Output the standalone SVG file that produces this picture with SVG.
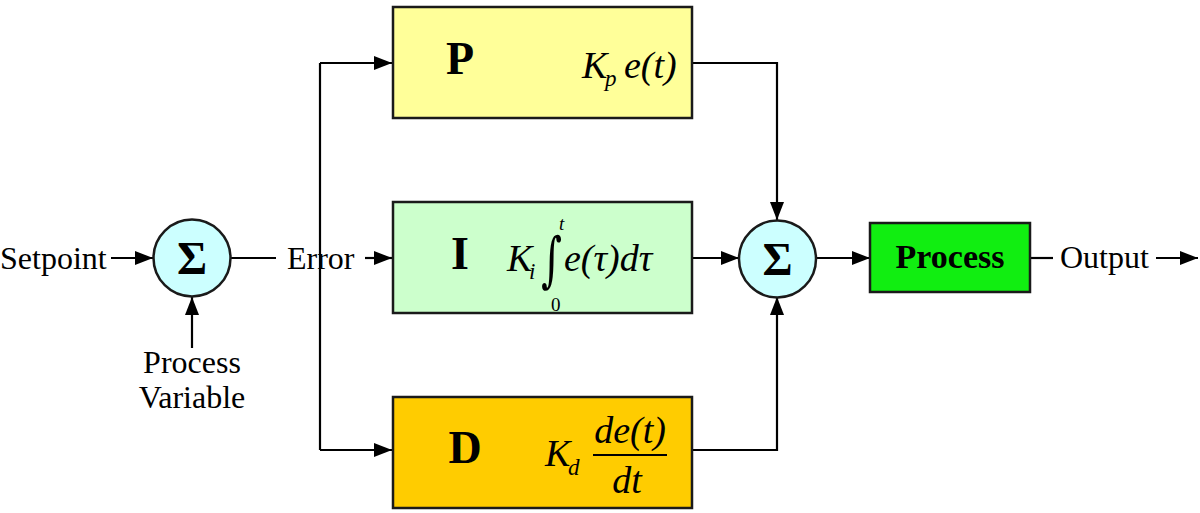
<svg xmlns="http://www.w3.org/2000/svg" width="1200" height="513" viewBox="0 0 1200 513">
<style>
text{font-family:"Liberation Serif","Times New Roman",serif;fill:#000}
.lbl{font-size:32px}
.big{font-size:46px;font-weight:bold}
.sig{font-size:46px;font-weight:bold}
.m{font-style:italic;font-size:38px}
.sub{font-style:italic;font-size:23px}
.box{stroke:#1a1a1a;stroke-width:2.5}
.ln{fill:none;stroke:#000;stroke-width:2.2}
.ar{fill:none;stroke:#000;stroke-width:2.2;marker-end:url(#ah)}
</style>
<defs>
<marker id="ah" viewBox="0 0 18 14" refX="18" refY="7" markerWidth="18" markerHeight="14" markerUnits="userSpaceOnUse" orient="auto">
<path d="M0,0 L18,7 L0,14 Z" fill="#000"/>
</marker>
</defs>
<g id="connectors">
<line class="ar" x1="111" y1="258" x2="153" y2="258"/>
<line class="ar" x1="192" y1="348" x2="192" y2="297"/>
<line class="ln" x1="231" y1="258" x2="276" y2="258"/>
<polyline class="ln" points="320,63 320,450"/>
<line class="ar" x1="320" y1="63" x2="392" y2="63"/>
<line class="ar" x1="320" y1="450" x2="392" y2="450"/>
<line class="ar" x1="365" y1="258" x2="392" y2="258"/>
<polyline class="ar" points="692,63 777,63 777,220"/>
<line class="ar" x1="692" y1="258" x2="739" y2="258"/>
<polyline class="ar" points="692,450 777,450 777,297"/>
<line class="ar" x1="816" y1="258" x2="870" y2="258"/>
<line class="ln" x1="1030" y1="258" x2="1053" y2="258"/>
<line class="ar" x1="1156" y1="258" x2="1198" y2="258"/>
</g>
<g id="labels">
<text class="lbl" x="0" y="269">Setpoint</text>
<text class="lbl" x="287" y="269">Error</text>
<text class="lbl" x="192" y="373" text-anchor="middle">Process</text>
<text class="lbl" x="192" y="408" text-anchor="middle">Variable</text>
<text class="lbl" x="1060" y="268">Output</text>
</g>
<g id="sum1">
<circle class="box" cx="192" cy="258" r="38.5" fill="#CCFFFF"/>
<text class="sig" x="192" y="274" text-anchor="middle">Σ</text>
</g>
<g id="P">
<rect class="box" x="393" y="7" width="299" height="111" fill="#FFFF99"/>
<text class="big" x="460" y="74" text-anchor="middle">P</text>
<text class="m" x="582" y="78">K</text>
<text class="sub" x="605" y="86">p</text>
<text class="m" x="624" y="78">e(t)</text>
</g>
<g id="I">
<rect class="box" x="393" y="202" width="299" height="111" fill="#CCFFCC"/>
<text class="big" x="460" y="269" text-anchor="middle">I</text>
<text class="m" x="507" y="271">K</text>
<text class="sub" x="529" y="279">i</text>
<text style="font-family:'DejaVu Serif',serif;font-size:40px" transform="translate(541,280) scale(1,1.5)">∫</text>
<text class="sub" x="559" y="230" style="font-size:19px">t</text>
<text style="font-size:19px" x="551" y="311">0</text>
<text class="m" x="564" y="271">e(τ)dτ</text>
</g>
<g id="D">
<rect class="box" x="393" y="397" width="299" height="111" fill="#FFCC00"/>
<text class="big" x="465" y="463" text-anchor="middle">D</text>
<text class="m" x="545" y="466">K</text>
<text class="sub" x="568" y="475">d</text>
<text class="m" x="630" y="443" text-anchor="middle">de(t)</text>
<line x1="593" y1="455" x2="667" y2="455" stroke="#000" stroke-width="2"/>
<text class="m" x="627" y="493" text-anchor="middle">dt</text>
</g>
<g id="sum2">
<circle class="box" cx="777.5" cy="259" r="38.5" fill="#CCFFFF"/>
<text class="sig" x="777.5" y="275" text-anchor="middle">Σ</text>
</g>
<g id="process">
<rect class="box" x="870" y="223" width="160" height="69" fill="#11EE11"/>
<text x="950" y="268" text-anchor="middle" style="font-size:34px;font-weight:bold">Process</text>
</g>
</svg>
